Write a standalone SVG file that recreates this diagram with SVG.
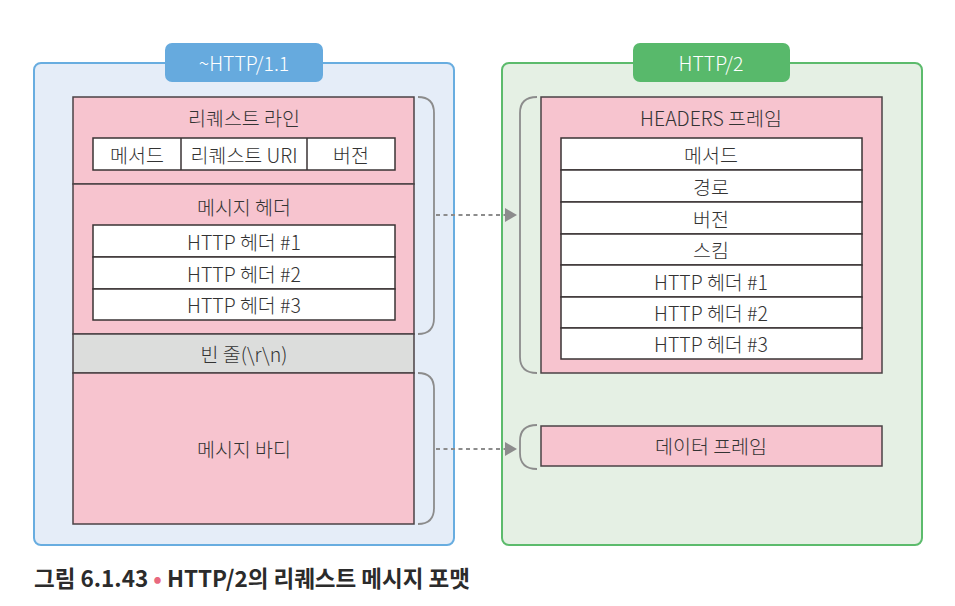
<svg xmlns="http://www.w3.org/2000/svg" width="955" height="606" viewBox="0 0 955 606">
<defs>
<style>
text{font-family:"Noto Sans CJK KR","Noto Sans",sans-serif;font-size:19.5px;font-weight:300;fill:#333;text-anchor:middle;dominant-baseline:central}
.pk{fill:#f7c4cf;stroke:#4b4245;stroke-width:1.5}
.wh{fill:#fff;stroke:#3a3334;stroke-width:1.5}
.gr{fill:#dcdddc;stroke:#4b4245;stroke-width:1.5}
.br{fill:none;stroke:#8c8c8c;stroke-width:1.8}
.dash{fill:none;stroke:#8c8c8c;stroke-width:1.8;stroke-dasharray:4 3.5}
.tab{fill:#fff;font-size:19.5px}
.ah{fill:#8c8c8c}
</style>
</defs>
<rect width="955" height="606" fill="#fff"/>

<g id="http11">
<rect x="34" y="63" width="420" height="482" rx="7" fill="#e5edf8" stroke="#68ade0" stroke-width="2"/>
<rect x="165" y="43" width="158" height="39" rx="7" fill="#66aade"/>
<text class="tab" x="244" y="62">~HTTP/1.1</text>
</g>

<g id="http2">
<rect x="502" y="63" width="420" height="482" rx="7" fill="#e5f0e4" stroke="#5cbb6c" stroke-width="2"/>
<rect x="633" y="43" width="157" height="39" rx="7" fill="#58b96b"/>
<text class="tab" x="711" y="62">HTTP/2</text>
</g>

<g id="request-line">
<rect class="pk" x="73" y="97" width="341" height="87"/>
<text x="244" y="117">리퀘스트 라인</text>
<rect class="wh" x="93" y="138" width="302" height="32"/>
<line x1="181" y1="138" x2="181" y2="170" stroke="#3a3334" stroke-width="1.5"/>
<line x1="307" y1="138" x2="307" y2="170" stroke="#3a3334" stroke-width="1.5"/>
<text x="137" y="154">메서드</text>
<text x="244" y="154">리퀘스트 URI</text>
<text x="351" y="154">버전</text>
</g>

<g id="message-header">
<rect class="pk" x="73" y="184" width="341" height="150"/>
<text x="244" y="206">메시지 헤더</text>
<rect class="wh" x="93" y="225" width="302" height="32"/>
<text x="244" y="241">HTTP 헤더 #1</text>
<rect class="wh" x="93" y="257" width="302" height="32"/>
<text x="244" y="273">HTTP 헤더 #2</text>
<rect class="wh" x="93" y="289" width="302" height="31"/>
<text x="244" y="304">HTTP 헤더 #3</text>
</g>

<g id="blank-line">
<rect class="gr" x="73" y="334" width="341" height="39"/>
<text x="244" y="353">빈 줄(\r\n)</text>
</g>

<g id="message-body">
<rect class="pk" x="73" y="373" width="341" height="151"/>
<text x="244" y="448">메시지 바디</text>
</g>

<g id="headers-frame">
<rect class="pk" x="541" y="97" width="341" height="276"/>
<text x="711" y="117">HEADERS 프레임</text>
<rect class="wh" x="561" y="138" width="301" height="32"/>
<text x="711" y="154">메서드</text>
<rect class="wh" x="561" y="170" width="301" height="32"/>
<text x="711" y="186">경로</text>
<rect class="wh" x="561" y="202" width="301" height="32"/>
<text x="711" y="218">버전</text>
<rect class="wh" x="561" y="234" width="301" height="31"/>
<text x="711" y="249">스킴</text>
<rect class="wh" x="561" y="265" width="301" height="32"/>
<text x="711" y="281">HTTP 헤더 #1</text>
<rect class="wh" x="561" y="297" width="301" height="31"/>
<text x="711" y="312">HTTP 헤더 #2</text>
<rect class="wh" x="561" y="328" width="301" height="31"/>
<text x="711" y="343">HTTP 헤더 #3</text>
</g>

<g id="data-frame">
<rect class="pk" x="541" y="426" width="341" height="40"/>
<text x="711" y="445">데이터 프레임</text>
</g>

<g id="connectors">
<path class="br" d="M418,97 Q434,97 434,113 L434,318 Q434,334 418,334"/>
<path class="br" d="M418,373 Q434,373 434,389 L434,508 Q434,524 418,524"/>
<path class="br" d="M537,97 Q520,97 520,113 L520,357 Q520,373 537,373"/>
<path class="br" d="M537,425 Q520,425 520,441 L520,453 Q520,469 537,469"/>
<path class="dash" d="M436,215 L505,215"/>
<path class="dash" d="M436,449 L505,449"/>
<path class="ah" d="M505,208 L517,215 L505,222 Z"/>
<path class="ah" d="M505,442 L517,449 L505,456 Z"/>
</g>

<g id="caption">
<text x="34" y="577" style="text-anchor:start;font-size:22.5px;font-weight:700;fill:#2b2b2b">그림 6.1.43 <tspan fill="#e8697f">•</tspan> HTTP/2의 리퀘스트 메시지 포맷</text>
</g>
</svg>
